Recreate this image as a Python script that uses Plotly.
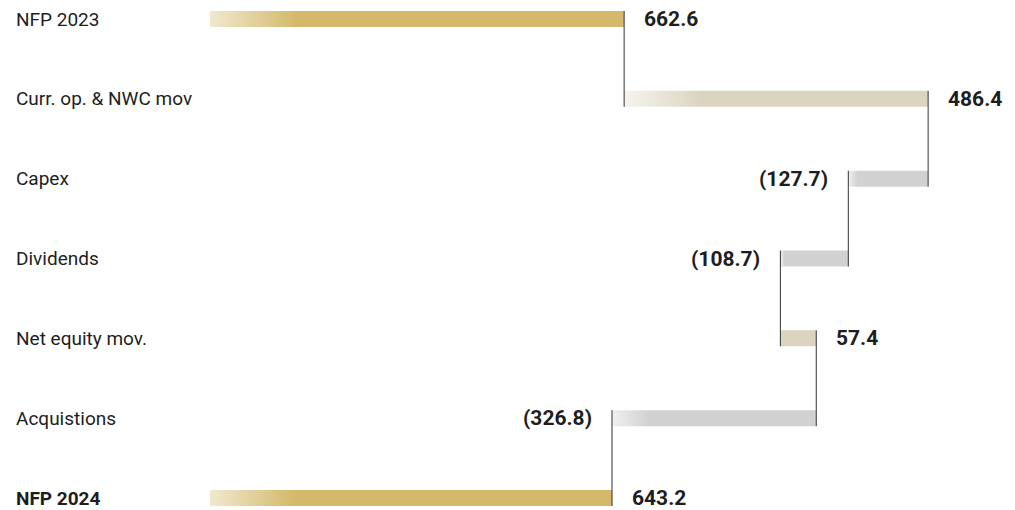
import plotly.graph_objects as go

categories = ["NFP 2023", "Curr. op. & NWC mov", "Capex", "Dividends",
              "Net equity mov.", "Acquistions", "NFP 2024"]
values = [662.6, 486.4, -127.7, -108.7, 57.4, -326.8, 643.2]
kinds = ["total", "relative", "relative", "relative", "relative", "relative", "total"]
value_labels = ["662.6", "486.4", "(127.7)", "(108.7)", "57.4", "(326.8)", "643.2"]

GOLD = "#d4b96b"
BEIGE = "#dbd5c0"
GRAY = "#d1d1d1"
start_col = {"total": "#f1e8cf", "up": "#f6f4ee", "down": "#f0f0f0"}
fade = [0.21, 0.25, 0.12, 0.06, 0.02, 0.18, 0.21]

HALF = 0.1
fig = go.Figure()

# compute bar extents from the data
bases, ends = [], []
run = 0.0
for v, k in zip(values, kinds):
    if k == "total":
        b, e = 0.0, v
        run = v
    else:
        b, e = run, run + v
        run = e
    bases.append(b)
    ends.append(e)

for i, (cat, v, k) in enumerate(zip(categories, values, kinds)):
    lo, hi = min(bases[i], ends[i]), max(bases[i], ends[i])
    if k == "total":
        col, sc = GOLD, start_col["total"]
    elif v > 0:
        col, sc = BEIGE, start_col["up"]
    else:
        col, sc = GRAY, start_col["down"]
    f = fade[i]
    fig.add_trace(go.Scatter(
        x=[lo, hi, hi, lo, lo],
        y=[i - HALF, i - HALF, i + HALF, i + HALF, i - HALF],
        mode="lines", line=dict(width=0), fill="toself",
        fillgradient=dict(type="horizontal",
                          colorscale=[[0, sc], [f, col], [1, col]]),
        hoverinfo="skip", showlegend=False))

# connectors
cx, cy = [], []
for i in range(len(values) - 1):
    x = ends[i]
    cx += [x, x, None]
    cy += [i - HALF, i + 1 + HALF, None]
fig.add_trace(go.Scatter(x=cx, y=cy, mode="lines",
                         line=dict(color="#333333", width=1),
                         hoverinfo="skip", showlegend=False))

annotations = []
for i, (cat, v) in enumerate(zip(categories, values)):
    bold = i == len(categories) - 1
    annotations.append(dict(
        x=0, xref="paper", y=i, yref="y", xanchor="left", yanchor="middle",
        xshift=-196, showarrow=False,
        text=f"<b>{cat}</b>" if bold else cat,
        font=dict(family="Roboto", size=19, color="#1e1e1e")))
    lo, hi = min(bases[i], ends[i]), max(bases[i], ends[i])
    if v >= 0:
        annotations.append(dict(x=hi, y=i, xanchor="left", yanchor="middle",
                                xshift=18, showarrow=False,
                                text=f"<b>{value_labels[i]}</b>",
                                font=dict(family="Roboto", size=21, color="#1e1e1e")))
    else:
        annotations.append(dict(x=lo, y=i, xanchor="right", yanchor="middle",
                                xshift=-18, showarrow=False,
                                text=f"<b>{value_labels[i]}</b>",
                                font=dict(family="Roboto", size=21, color="#1e1e1e")))

fig.update_layout(
    width=1015, height=510,
    margin=dict(l=210, r=0, t=0, b=0),
    plot_bgcolor="white", paper_bgcolor="white",
    xaxis=dict(range=[0, 1288], visible=False, fixedrange=True),
    yaxis=dict(range=[6.15, -0.238], visible=False, fixedrange=True),
    annotations=annotations,
    showlegend=False,
)

fig.write_html("out.html", config={"displayModeBar": False},
               post_script="document.body.style.margin='0';")
